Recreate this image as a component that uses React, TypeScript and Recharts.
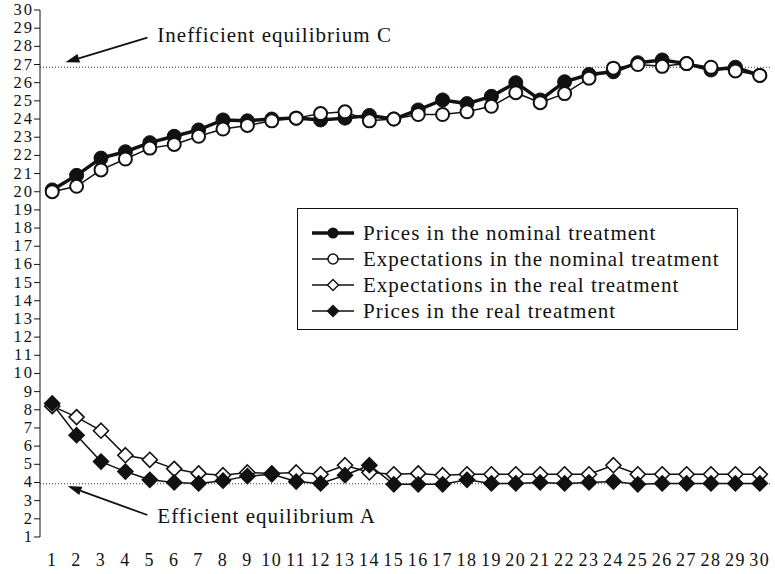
import React from 'react'
import { LineChart, Line, XAxis, YAxis, ReferenceLine, Legend } from 'recharts'

const periods = [1, 2, 3, 4, 5, 6, 7, 8, 9, 10, 11, 12, 13, 14, 15, 16, 17, 18, 19, 20, 21, 22, 23, 24, 25, 26, 27, 28, 29, 30]
const pricesNominal = [20.1, 20.9, 21.85, 22.2, 22.7, 23.05, 23.4, 23.95, 23.9, 24.0, 24.05, 23.95, 24.05, 24.2, 24.0, 24.5, 25.05, 24.85, 25.25, 26.0, 25.05, 26.05, 26.45, 26.6, 27.1, 27.25, 27.05, 26.7, 26.85, 26.4]
const expectationsNominal = [20.0, 20.3, 21.2, 21.8, 22.4, 22.6, 23.05, 23.45, 23.65, 23.9, 24.05, 24.3, 24.4, 23.9, 24.0, 24.25, 24.25, 24.4, 24.7, 25.45, 24.9, 25.4, 26.25, 26.8, 27.0, 26.9, 27.05, 26.85, 26.65, 26.4]
const expectationsReal = [8.2, 7.6, 6.85, 5.5, 5.25, 4.75, 4.5, 4.4, 4.55, 4.5, 4.55, 4.45, 4.95, 4.55, 4.45, 4.5, 4.4, 4.45, 4.45, 4.45, 4.45, 4.45, 4.45, 4.95, 4.45, 4.45, 4.45, 4.45, 4.45, 4.45]
const pricesReal = [8.35, 6.6, 5.15, 4.6, 4.15, 4.0, 3.95, 4.1, 4.35, 4.45, 4.05, 3.95, 4.4, 4.95, 3.9, 3.9, 3.9, 4.15, 3.95, 3.95, 4.0, 3.95, 4.0, 4.05, 3.9, 3.95, 3.95, 3.95, 3.95, 3.95]
const yTicks = [1, 2, 3, 4, 5, 6, 7, 8, 9, 10, 11, 12, 13, 14, 15, 16, 17, 18, 19, 20, 21, 22, 23, 24, 25, 26, 27, 28, 29, 30]
const edgeTicks = [...periods.map((p) => p - 0.5), 30.5]
const inefficientLevel = 26.85
const efficientLevel = 3.93

const legendNames = [
  'Prices in the nominal treatment',
  'Expectations in the nominal treatment',
  'Expectations in the real treatment',
  'Prices in the real treatment',
]

const data = periods.map((period, i) => ({
  period,
  pricesNominal: pricesNominal[i],
  expectationsNominal: expectationsNominal[i],
  expectationsReal: expectationsReal[i],
  pricesReal: pricesReal[i],
}))

const serif = '"Liberation Serif", "Times New Roman", serif'
const ink = '#111'

const XTick = (props: any) => {
  const { x, y, payload } = props
  return (
    <text x={x} y={y} dy={15} textAnchor="middle" fill={ink} fontSize={18} fontFamily={serif} letterSpacing={1.5}>
      {payload.value}
    </text>
  )
}

const YTick = (props: any) => {
  const { x, y, payload } = props
  return (
    <text x={x + 1} y={y} dy={5} textAnchor="end" fill={ink} fontSize={16.5} fontFamily={serif} letterSpacing={2}>
      {payload.value}
    </text>
  )
}

const diamondDot = (fill: string, half: number) => (props: any) => {
  const { cx, cy, index } = props
  if (cx == null || cy == null) return <g key={`d-${fill}-${index}`} />
  return (
    <path
      key={`d-${fill}-${index}`}
      d={`M${cx},${cy - half}L${cx + half},${cy}L${cx},${cy + half}L${cx - half},${cy}Z`}
      fill={fill}
      stroke={ink}
      strokeWidth={1.6}
    />
  )
}

const arrowNote = (text: string, dy: number) => (props: any) => {
  const { x1, y1, x2, y2 } = props
  const ang = Math.atan2(y2 - y1, x2 - x1)
  const len = 14
  const half = 4.5
  const bx = x2 - len * Math.cos(ang)
  const by = y2 - len * Math.sin(ang)
  const px = -Math.sin(ang) * half
  const py = Math.cos(ang) * half
  return (
    <g>
      <line x1={x1} y1={y1} x2={bx} y2={by} stroke={ink} strokeWidth={1.8} />
      <polygon points={`${x2},${y2} ${bx + px},${by + py} ${bx - px},${by - py}`} fill={ink} />
      <text x={x1 + 10} y={y1 + dy} fill={ink} fontSize={21} fontFamily={serif} letterSpacing={1}>
        {text}
      </text>
    </g>
  )
}

const LegendSymbol = ({ index }: { index: number }) => {
  const thick = index === 0
  return (
    <svg width={42} height={16} style={{ display: 'block' }}>
      <line x1={0} y1={8} x2={42} y2={8} stroke={ink} strokeWidth={thick ? 3.5 : 1.5} />
      {index === 0 && <circle cx={21} cy={8} r={5.5} fill={ink} />}
      {index === 1 && <circle cx={21} cy={8} r={5} fill="#fff" stroke={ink} strokeWidth={1.5} />}
      {index === 2 && <path d="M21,2.5L26.5,8L21,13.5L15.5,8Z" fill="#fff" stroke={ink} strokeWidth={1.4} />}
      {index === 3 && <path d="M21,2.5L26.5,8L21,13.5L15.5,8Z" fill={ink} stroke={ink} strokeWidth={1.4} />}
    </svg>
  )
}

const LegendBox = () => (
  <div
    style={{
      width: 441,
      height: 122,
      boxSizing: 'border-box',
      border: `1px solid ${ink}`,
      background: '#fff',
      paddingTop: 11,
    }}
  >
    {legendNames.map((name, i) => (
      <div key={name} style={{ display: 'flex', alignItems: 'center', height: 26 }}>
        <div style={{ marginLeft: 14, marginRight: 9 }}>
          <LegendSymbol index={i} />
        </div>
        <span style={{ fontFamily: serif, fontSize: 21, letterSpacing: 1, color: ink, lineHeight: '26px' }}>{name}</span>
      </div>
    ))}
  </div>
)

export default function App() {
  return (
    <div style={{ position: 'absolute', left: 0, top: 0, background: '#fff' }}>
      <LineChart width={775} height={574} data={data} margin={{ top: 10, right: 3, bottom: 0, left: 0 }}>
        <XAxis
          xAxisId="edge"
          dataKey="period"
          type="number"
          domain={[0.5, 30.5]}
          ticks={edgeTicks}
          interval={0}
          tick={false}
          tickSize={6}
          height={0}
          stroke={ink}
        />
        <XAxis
          dataKey="period"
          type="number"
          domain={[0.5, 30.5]}
          ticks={periods}
          interval={0}
          axisLine={false}
          tickLine={false}
          tickMargin={8}
          height={37}
          tick={<XTick />}
        />
        <YAxis
          type="number"
          domain={[1, 30]}
          ticks={yTicks}
          interval={0}
          width={40}
          tickSize={6}
          tickMargin={1}
          stroke={ink}
          tick={<YTick />}
        />
        <ReferenceLine y={inefficientLevel} stroke="#333" strokeDasharray="1 2" strokeWidth={1} />
        <ReferenceLine y={efficientLevel} stroke="#333" strokeDasharray="1 2" strokeWidth={1} />
        <ReferenceLine
          segment={[{ x: 4.9, y: 28.48 }, { x: 1.54, y: 27.12 }]}
          shape={arrowNote('Inefficient equilibrium C', 4)}
        />
        <ReferenceLine
          segment={[{ x: 4.9, y: 2.21 }, { x: 1.63, y: 3.8 }]}
          shape={arrowNote('Efficient equilibrium A', 8)}
        />
        <Line
          dataKey="pricesNominal"
          name={legendNames[0]}
          stroke={ink}
          strokeWidth={3.5}
          dot={{ r: 7, fill: ink, stroke: ink, strokeWidth: 1 }}
          isAnimationActive={false}
        />
        <Line
          dataKey="expectationsNominal"
          name={legendNames[1]}
          stroke={ink}
          strokeWidth={1.5}
          dot={{ r: 6.5, fill: '#fff', stroke: ink, strokeWidth: 2 }}
          isAnimationActive={false}
        />
        <Line
          dataKey="expectationsReal"
          name={legendNames[2]}
          stroke={ink}
          strokeWidth={1.5}
          dot={diamondDot('#fff', 7.5)}
          isAnimationActive={false}
        />
        <Line
          dataKey="pricesReal"
          name={legendNames[3]}
          stroke={ink}
          strokeWidth={1.5}
          dot={diamondDot(ink, 7.5)}
          isAnimationActive={false}
        />
        <Legend
          layout="vertical"
          align="center"
          verticalAlign="middle"
          wrapperStyle={{ left: 297, top: 208, width: 441 }}
          content={() => <LegendBox />}
        />
      </LineChart>
    </div>
  )
}
